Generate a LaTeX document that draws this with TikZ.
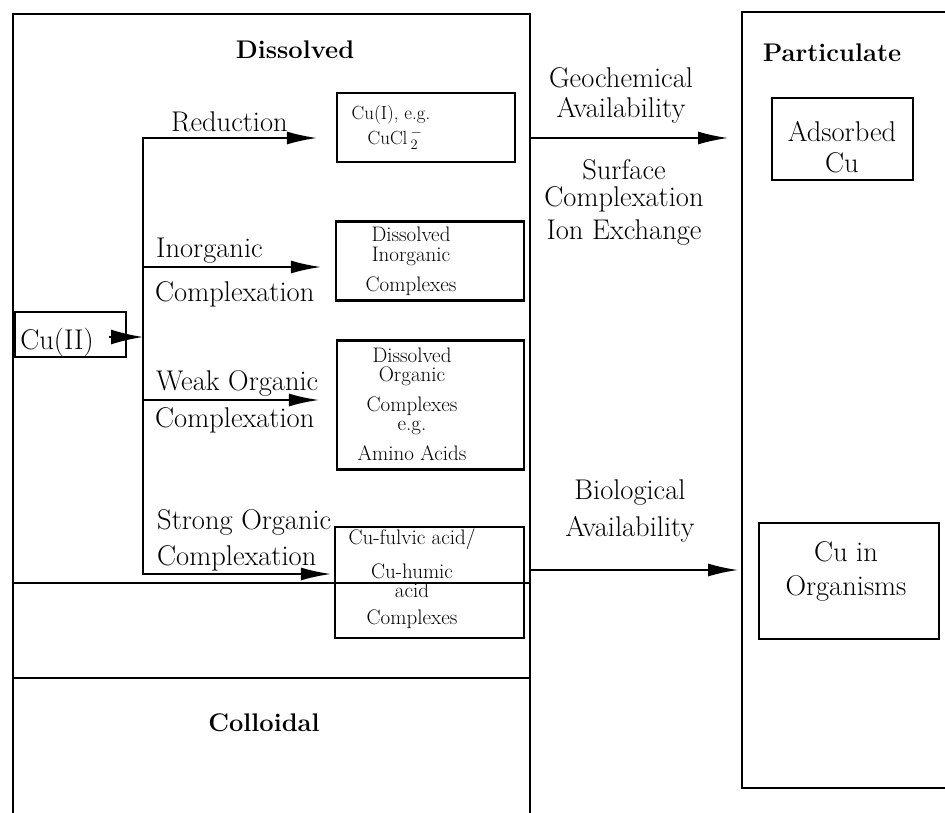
\documentclass[tikz,border=0pt]{standalone}
\usetikzlibrary{arrows.meta}
\begin{document}
\begin{tikzpicture}[x=1pt,y=-1pt,
  region/.style={line width=2.2pt},
  box/.style={draw, line width=2.2pt, inner sep=0pt},
  lbl/.style={font=\fontsize{28.5}{30}\selectfont, inner sep=0pt, align=center},
  lblw/.style={font=\fontsize{28.5}{30}\selectfont, inner sep=0pt, align=left, anchor=west},
  ttl/.style={font=\fontsize{25.5}{28}\selectfont\bfseries, inner sep=0pt},
  sml/.style={font=\fontsize{21}{19}\selectfont, inner sep=0pt, align=center},
  arr/.style={line width=1.8pt, -{Latex[length=30pt,width=13pt]}}
]
\useasboundingbox (0,0) rectangle (945,813);

% compartments
\draw[region] (13,813) -- (13,14) -- (530,14) -- (530,813);
\draw[region] (13,583) -- (530,583);
\draw[region] (13,678) -- (530,678);
\draw[region] (950,12) -- (742,12) -- (742,788) -- (950,788);

% titles
\node[ttl] (tdis) at (295,50) {Dissolved};
\node[ttl] (tpar) at (832,53) {Particulate};
\node[ttl] (tcol) at (264,723) {Colloidal};

% boxes
\node[box, minimum width=111pt, minimum height=45pt] (cu2) at (70.5,334.5) {};
\node[lbl] (cu2t) at (57,342) {Cu(II)};

\node[box, minimum width=178pt, minimum height=69pt] (cu1) at (426,127.5) {};
\node[font=\fontsize{19}{25}\selectfont, inner sep=0pt, align=center] (cu1t) at (391,127)
  {Cu(I), e.g.\\ \hspace*{8pt}CuCl\,$_{2}^{-}$};

\node[box, minimum width=188pt, minimum height=79pt] (inorg) at (430,261) {};
\node[sml] (inorgt) at (411,261.5) {Dissolved\\[1pt]Inorganic\\[11pt]Complexes};

\node[box, minimum width=187pt, minimum height=129pt] (org) at (430.5,405) {};
\node[sml] (orgt) at (412,404) {Dissolved\\[0pt]Organic\\[11pt]Complexes\\[0pt]e.g.\\[10pt]Amino Acids};

\node[box, minimum width=189pt, minimum height=111pt] (fulv) at (429.5,582.5) {};
\node[sml] (fulvt) at (412,579) {Cu-fulvic acid/\\[13pt]Cu-humic\\[0pt]acid\\[8pt]Complexes};

\node[box, minimum width=141pt, minimum height=82pt] (ads) at (842.5,139) {};
\node[lbl] (adst) at (842,147) {Adsorbed\\[1pt]Cu};

\node[box, minimum width=180pt, minimum height=116pt] (orgn) at (849,581) {};
\node[lbl] (orgnt) at (846,571) {Cu in\\[4pt]Organisms};

% connectors inside the dissolved box
\coordinate (jt) at (143,138);
\coordinate (jb) at (143,574);
\coordinate (ji) at (143,267);
\coordinate (jw) at (143,400);
\coordinate (jc) at (143,337);

\draw[arr, shorten >=19pt] (jb) -- (jt) -- (jt -| cu1.west);
\draw[arr, shorten >=3pt] (jt) -- (jb) -- (jb -| fulv.west);
\draw[arr, shorten >=14pt] (ji) -- (ji -| inorg.west);
\draw[arr, shorten >=17pt] (jw) -- (jw -| org.west);
\draw[line width=1.8pt, -{Latex[length=32pt,width=15pt]}] ([xshift=-18pt]cu2.east |- jc) -- (jc);

% pathway labels
\node[lblw] (lred) at (171,122) {Reduction};
\node[lblw] (linorg1) at (156,251) {Inorganic};
\node[lblw] (linorg2) at (155,294) {Complexation};
\node[lblw] (lweak1) at (156,383) {Weak Organic};
\node[lblw] (lweak2) at (155,420) {Complexation};
\node[lblw, font=\fontsize{28.5}{36}\selectfont] (lstrong) at (157,540) {Strong Organic\\Complexation};

% availability arrows
\coordinate (geoS) at (530,138);
\coordinate (geoE) at (742,138);
\coordinate (bioS) at (530,570);
\coordinate (bioE) at (742,570);
\draw[arr, shorten >=14pt] (geoS) -- (geoE);
\draw[arr, shorten >=4pt] (bioS) -- (bioE);

\node[lbl] (lgeo) at (621,95) {Geochemical\\[0pt]Availability};
\node[lbl] (lsurf) at (624,202) {Surface\\[-3pt]Complexation\\[3pt]Ion Exchange};
\node[lbl] (lbio) at (630,511) {Biological\\[7pt]Availability};
\end{tikzpicture}
\end{document}
